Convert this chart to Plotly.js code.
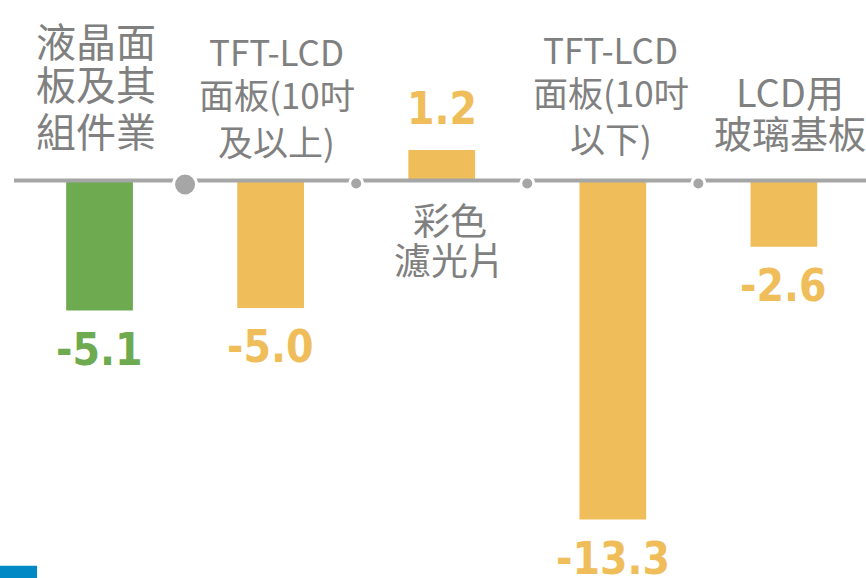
<!DOCTYPE html>
<html>
<head>
<meta charset="utf-8">
<script src="https://cdn.plot.ly/plotly-3.0.1.min.js"></script>
<style>
html, body { margin: 0; padding: 0; background: #fff; }
#chart { width: 866px; height: 578px; }
</style>
</head>
<body>
<div id="chart"></div>
<script>
// ---- data ----
const categories = ['液晶面<br>板及其<br>組件業', 'TFT-LCD<br>面板(10吋<br>及以上)', '彩色<br>濾光片', 'TFT-LCD<br>面板(10吋<br>以下)', 'LCD用<br>玻璃基板'];
const values = [-5.1, -5.0, 1.2, -13.3, -2.6];
const valueLabels = ['-5.1', '-5.0', '1.2', '-13.3', '-2.6'];
const barColors = ['#6DAA50', '#EFBE5A', '#EFBE5A', '#EFBE5A', '#EFBE5A'];

// ---- styles (label typography, per category) ----
const GRAY_TEXT = '#808080';
const LINE_GRAY = '#A6A6A6';
const labelFontSize = [40, 35, 37, 35, 38];
// pixel offsets of each label line centre above (+) / below (-) the zero line
const labelLineOffsets = [[141, 98, 51], [130, 87, 40], [-38, -78], [132, 89, 43], [90, 49]];
const labelXShift = [-4, 6, 8, -2, 6];

const idx = categories.map((_, i) => i);

const bar = {
  type: 'bar',
  x: idx,
  y: values,
  width: 0.39,
  marker: { color: barColors, line: { width: 0 } },
  hoverinfo: 'skip'
};

const annotations = [];
categories.forEach((c, i) => {
  const neg = values[i] < 0;
  annotations.push({
    x: i, y: values[i], xref: 'x', yref: 'y',
    text: valueLabels[i], showarrow: false,
    yanchor: neg ? 'top' : 'bottom',
    yshift: neg ? -11 : 14,
    font: { family: 'Liberation Sans Narrow, DejaVu Sans Condensed, sans-serif', size: 44, color: barColors[i], weight: 'bold' }
  });
  c.split('<br>').forEach((line, k) => {
    annotations.push({
      x: i, y: 0, xref: 'x', yref: 'y',
      text: line, showarrow: false,
      yanchor: 'middle', xanchor: 'center',
      yshift: labelLineOffsets[i][k], xshift: labelXShift[i],
      font: { family: 'Noto Sans CJK TC, sans-serif', size: labelFontSize[i], color: GRAY_TEXT }
    });
  });
});

const shapes = [
  { type: 'line', xref: 'paper', yref: 'y', x0: 0, x1: 1, y0: 0, y1: 0, line: { color: LINE_GRAY, width: 4 }, layer: 'above' },
  { type: 'rect', xref: 'paper', yref: 'paper', x0: -0.02, x1: 0.027, y0: 0, y1: 0.021, fillcolor: '#0089C4', line: { width: 0 } }
];
// separator dots between categories
for (let i = 0; i < categories.length - 1; i++) {
  const r = i === 0 ? 10 : 5;
  const dy = i === 0 ? 4 : 3;
  const gap = 3;
  shapes.push({ type: 'circle', xref: 'x', yref: 'y', xsizemode: 'pixel', ysizemode: 'pixel',
    xanchor: i + 0.5, yanchor: 0, x0: -(r + gap), x1: r + gap, y0: -(r + gap) - dy, y1: (r + gap) - dy,
    fillcolor: '#ffffff', line: { width: 0 }, layer: 'above' });
  shapes.push({ type: 'circle', xref: 'x', yref: 'y', xsizemode: 'pixel', ysizemode: 'pixel',
    xanchor: i + 0.5, yanchor: 0, x0: -r, x1: r, y0: -r - dy, y1: r - dy,
    fillcolor: LINE_GRAY, line: { width: 0 }, layer: 'above' });
}

const layout = {
  width: 866, height: 578,
  margin: { l: 14, r: 0, t: 0, b: 0 },
  paper_bgcolor: '#ffffff', plot_bgcolor: '#ffffff',
  showlegend: false,
  xaxis: { range: [-0.5, 4.48], showgrid: false, zeroline: false, showticklabels: false, ticks: '', fixedrange: true },
  yaxis: { range: [-15.59, 7.08], showgrid: false, zeroline: false, showticklabels: false, ticks: '', fixedrange: true },
  annotations: annotations,
  shapes: shapes
};

Plotly.newPlot('chart', [bar], layout, { displayModeBar: false, staticPlot: true });
</script>
</body>
</html>
